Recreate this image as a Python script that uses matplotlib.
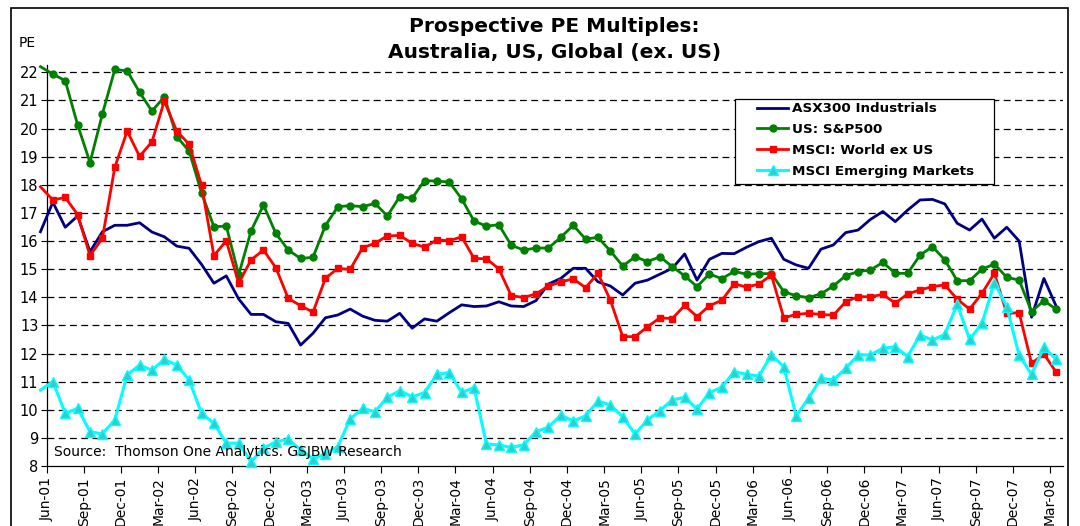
import numpy as np
import matplotlib
matplotlib.use("Agg")
from matplotlib import pyplot as plt
from matplotlib.patches import Rectangle


# Monthly prospective PE readings, mid-May 2001 .. mid-March 2008
asx300 = [16.33, 17.38, 16.49, 16.89, 15.62, 16.33, 16.56, 16.56, 16.65, 16.32,
          16.15, 15.82, 15.74, 15.17, 14.50, 14.76, 13.94, 13.39, 13.39, 13.13,
          13.07, 12.30, 12.72, 13.27, 13.37, 13.58, 13.33, 13.18, 13.15, 13.43,
          12.90, 13.23, 13.15, 13.45, 13.73, 13.67, 13.69, 13.84, 13.69, 13.67,
          13.88, 14.47, 14.67, 15.03, 15.03, 14.55, 14.40, 14.08, 14.50, 14.61,
          14.82, 15.03, 15.54, 14.61, 15.35, 15.56, 15.55, 15.78, 15.98, 16.10,
          15.35, 15.15, 15.03, 15.71, 15.86, 16.30, 16.39, 16.77, 17.05, 16.69,
          17.10, 17.46, 17.48, 17.32, 16.63, 16.39, 16.78, 16.10, 16.49, 16.00,
          13.29, 14.67, 13.67]

sp500 = [22.20, 21.94, 21.70, 20.13, 18.79, 20.52, 22.10, 22.05, 21.29, 20.62,
         21.13, 19.71, 19.20, 17.72, 16.51, 16.53, 14.80, 16.36, 17.28, 16.27,
         15.68, 15.38, 15.42, 16.55, 17.22, 17.26, 17.22, 17.34, 16.89, 17.58,
         17.52, 18.15, 18.13, 18.10, 17.50, 16.71, 16.53, 16.58, 15.85, 15.68,
         15.75, 15.75, 16.13, 16.56, 16.07, 16.13, 15.65, 15.11, 15.44, 15.27,
         15.44, 15.09, 14.76, 14.38, 14.83, 14.66, 14.92, 14.82, 14.84, 14.84,
         14.20, 14.05, 13.99, 14.12, 14.40, 14.77, 14.91, 14.97, 15.24, 14.85,
         14.85, 15.50, 15.80, 15.33, 14.59, 14.59, 15.00, 15.18, 14.71, 14.61,
         13.49, 13.88, 13.57]

world_ex_us = [17.93, 17.46, 17.55, 16.94, 15.48, 16.10, 18.62, 19.91, 19.01, 19.53,
               20.98, 19.91, 19.44, 17.99, 15.48, 16.01, 14.50, 15.33, 15.68, 15.05,
               13.96, 13.70, 13.47, 14.67, 15.03, 14.99, 15.76, 15.92, 16.18, 16.20,
               15.92, 15.78, 16.04, 16.01, 16.15, 15.38, 15.37, 15.01, 14.06, 13.99,
               14.12, 14.40, 14.54, 14.66, 14.34, 14.85, 13.90, 12.60, 12.60, 12.95,
               13.27, 13.24, 13.71, 13.31, 13.70, 13.89, 14.48, 14.36, 14.47, 14.79,
               13.27, 13.39, 13.43, 13.39, 13.36, 13.84, 14.02, 14.02, 14.10, 13.79,
               14.12, 14.26, 14.38, 14.44, 13.93, 13.58, 14.14, 14.85, 13.43, 13.45,
               11.65, 11.98, 11.33]

emerging = [10.70, 11.00, 9.87, 10.05, 9.22, 9.14, 9.64, 11.24, 11.59, 11.41,
            11.79, 11.59, 11.06, 9.87, 9.52, 8.81, 8.81, 8.15, 8.63, 8.86,
            8.95, 8.57, 8.25, 8.43, 8.69, 9.67, 10.05, 9.93, 10.44, 10.68,
            10.46, 10.61, 11.26, 11.32, 10.62, 10.78, 8.78, 8.75, 8.66, 8.75,
            9.22, 9.38, 9.81, 9.60, 9.78, 10.31, 10.17, 9.75, 9.13, 9.64,
            9.97, 10.35, 10.44, 10.03, 10.61, 10.80, 11.35, 11.26, 11.20, 11.95,
            11.53, 9.78, 10.41, 11.12, 11.06, 11.47, 11.95, 11.95, 12.19, 12.24,
            11.89, 12.66, 12.48, 12.68, 13.76, 12.50, 13.07, 14.52, 13.67, 11.93,
            11.26, 12.22, 11.79]

tick_labels = ["Jun-01", "Sep-01", "Dec-01", "Mar-02", "Jun-02", "Sep-02", "Dec-02",
               "Mar-03", "Jun-03", "Sep-03", "Dec-03", "Mar-04", "Jun-04", "Sep-04",
               "Dec-04", "Mar-05", "Jun-05", "Sep-05", "Dec-05", "Mar-06", "Jun-06",
               "Sep-06", "Dec-06", "Mar-07", "Jun-07", "Sep-07", "Dec-07", "Mar-08"]

series_names = ["ASX300 Industrials", "US: S&P500", "MSCI: World ex US",
                "MSCI Emerging Markets"]

plt.rcParams['font.family'] = ['DejaVu Sans']

fig = plt.figure(figsize=(10.8, 5.26), dpi=100)
ax = fig.add_axes([0.0432, 0.1141, 0.9406, 0.7618])

# points sit mid-month, ticks on month starts (Jun-01 = 0)
x = np.arange(len(asx300)) - 0.5
# first reading falls left of the axis and carries no marker
marks = list(range(1, len(asx300)))

ax.plot(x, asx300, color='#000080', lw=2.0, clip_on=False, label=series_names[0], zorder=3)
ax.plot(x, sp500, color='#008000', lw=2.0, marker='o', ms=5, markevery=marks,
        clip_on=False, label=series_names[1], zorder=3)
ax.plot(x, world_ex_us, color='#FF0000', lw=2.0, marker='s', ms=5, markevery=marks,
        clip_on=False, label=series_names[2], zorder=3)
ax.plot(x, emerging, color='#00FFFF', lw=2.2, marker='^', ms=7, mfc='#33CCCC',
        mec='#00FFFF', markevery=marks, clip_on=False, label=series_names[3], zorder=3)

ax.set_xlim(0, 82)
ax.set_ylim(8, 22.25)
ax.set_yticks(range(8, 23))
ax.set_xticks(range(0, 82, 3))
ax.set_xticklabels(tick_labels, rotation=90, fontsize=10)
ax.tick_params(axis='y', labelsize=10.5, length=4, width=0.8, direction='out', pad=2)
ax.tick_params(axis='x', length=5, width=0.8, direction='out', pad=3)

for yv in range(9, 23):
    ax.axhline(yv, color='black', lw=0.9, dashes=(5.5, 3.5), zorder=1)

for side in ['top', 'right']:
    ax.spines[side].set_visible(False)
for side in ['left', 'bottom']:
    ax.spines[side].set_color('black')
    ax.spines[side].set_linewidth(0.9)

ax.text(0.007, 0.035, "Source:  Thomson One Analytics. GSJBW Research",
        transform=ax.transAxes, fontsize=10, va='center', ha='left', zorder=4)

fig.text(0.5135, 0.95, "Prospective PE Multiples:", ha='center', va='center',
         fontsize=14.5, fontweight='bold')
fig.text(0.5135, 0.901, "Australia, US, Global (ex. US)", ha='center', va='center',
         fontsize=14.5, fontweight='bold')
fig.text(0.017, 0.918, "PE", fontsize=10, va='center', ha='left')

# legend box drawn separately so it gets the wide side padding of the original
ax.add_patch(Rectangle((0.6806, 0.6502), 0.2398, 0.1616, transform=fig.transFigure,
                       facecolor='white', edgecolor='black', lw=0.9, zorder=5,
                       clip_on=False))
leg = ax.legend(loc='upper left', bbox_to_anchor=(0.695, 0.818),
                bbox_transform=fig.transFigure, frameon=False, borderpad=0,
                labelspacing=0.57, handlelength=2.3, handletextpad=0.25,
                prop={'weight': 'bold', 'size': 9.7})
leg.set_zorder(6)

# outer chart border
fig.patches.append(Rectangle((0.0102, -0.02), 0.9787, 1.005, transform=fig.transFigure,
                             fill=False, edgecolor='black', lw=1.2))

fig.savefig("out.png", dpi=100)
